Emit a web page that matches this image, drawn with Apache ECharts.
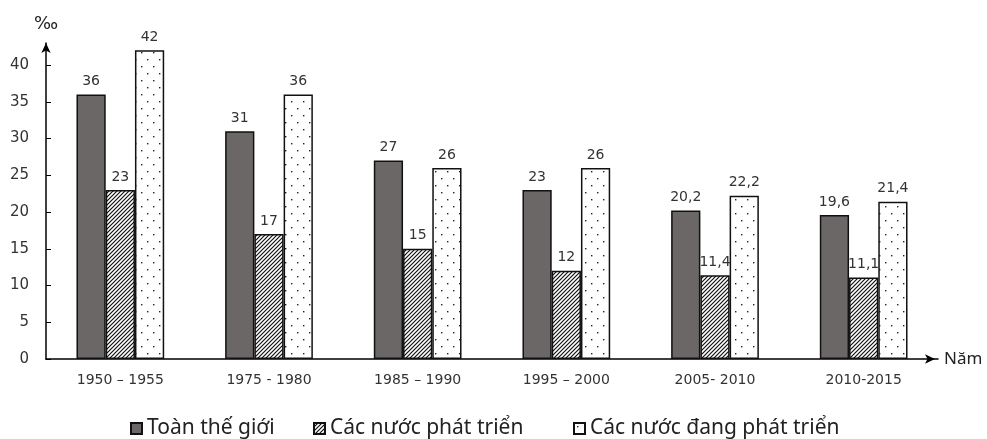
<!DOCTYPE html>
<html>
<head>
<meta charset="utf-8">
<script src="https://cdn.jsdelivr.net/npm/echarts@6/dist/echarts.min.js"></script>
<style>html,body{margin:0;padding:0;background:#fff}#c{width:987px;height:439px}</style>
</head>
<body>
<div id="c"></div>
<script>
const categories = ['1950 – 1955', '1975 - 1980', '1985 – 1990', '1995 – 2000', '2005- 2010', '2010-2015'];
const seriesNames = ['Toàn thế giới', 'Các nước phát triển', 'Các nước đang phát triển'];
const world = [36, 31, 27, 23, 20.2, 19.6];
const developed = [23, 17, 15, 12, 11.4, 11.1];
const developing = [42, 36, 26, 26, 22.2, 21.4];
const yTicks = [0, 5, 10, 15, 20, 25, 30, 35, 40];

function hatchPattern() {
  const c = document.createElement('canvas');
  c.width = 4; c.height = 4;
  const g = c.getContext('2d');
  g.fillStyle = '#fff'; g.fillRect(0, 0, 4, 4);
  g.strokeStyle = '#111'; g.lineWidth = 1.2;
  g.beginPath();
  g.moveTo(-1, 5); g.lineTo(5, -1);
  g.moveTo(-1, 1); g.lineTo(1, -1);
  g.moveTo(3, 5); g.lineTo(5, 3);
  g.stroke();
  return c;
}
function dotPattern() {
  const c = document.createElement('canvas');
  c.width = 12; c.height = 14;
  const g = c.getContext('2d');
  g.fillStyle = '#fff'; g.fillRect(0, 0, 12, 14);
  g.fillStyle = '#222';
  g.fillRect(3, 3, 1.4, 1.4);
  g.fillRect(9, 10, 1.4, 1.4);
  return c;
}

const labelCfg = {
  show: true, position: 'top', distance: 6,
  fontSize: 14, color: '#333', fontFamily: 'DejaVu Sans',
  formatter: p => String(p.value).replace('.', ',')
};
const border = { borderColor: '#111', borderWidth: 1.5, borderRadius: 0 };

const chart = echarts.init(document.getElementById('c'), null, { renderer: 'canvas' });
const legendBase = {
  orient: 'horizontal', top: 418, padding: 0, itemWidth: 11, itemHeight: 11, itemGap: 5,
  icon: 'rect',
  textStyle: { fontSize: 21, color: '#222', fontFamily: 'Noto Sans' },
  selectedMode: false
};
chart.setOption({
  animation: false,
  backgroundColor: '#fff',
  grid: { left: 46, right: 49, top: 43, bottom: 80, containLabel: false },
  legend: [
    Object.assign({}, legendBase, { left: 130, data: [seriesNames[0]] }),
    Object.assign({}, legendBase, { left: 313, data: [seriesNames[1]] }),
    Object.assign({}, legendBase, { left: 573, data: [seriesNames[2]] })
  ],
  xAxis: {
    type: 'category', data: categories,
    name: 'Năm', nameLocation: 'end', nameGap: 6,
    nameTextStyle: { fontSize: 17, color: '#222', fontFamily: 'Noto Sans', verticalAlign: 'middle' },
    axisLine: { lineStyle: { color: '#000', width: 1.5 }, symbol: ['none', 'arrow'], symbolSize: [7, 10], symbolOffset: [0, -3] },
    axisTick: { show: false },
    axisLabel: { fontSize: 14, color: '#333', margin: 14, fontFamily: 'DejaVu Sans' }
  },
  yAxis: {
    type: 'value', min: 0, max: 43,
    name: '‰', nameLocation: 'end', nameGap: 10,
    nameTextStyle: { fontSize: 18, color: '#222', fontFamily: 'DejaVu Sans', align: 'center' },
    axisLine: { show: true, lineStyle: { color: '#000', width: 1.5 }, symbol: ['none', 'arrow'], symbolSize: [7, 10] },
    axisTick: { show: true, inside: true, length: 5, lineStyle: { color: '#000' }, customValues: yTicks },
    axisLabel: { fontSize: 15, color: '#333', margin: 17, fontFamily: 'DejaVu Sans', customValues: yTicks },
    splitLine: { show: false }
  },
  series: [
    { name: seriesNames[0], type: 'bar', data: world, barGap: '0%', barCategoryGap: '41%',
      itemStyle: Object.assign({ color: '#6b6767' }, border), label: labelCfg },
    { name: seriesNames[1], type: 'bar', data: developed, barGap: '0%', barCategoryGap: '41%',
      itemStyle: Object.assign({ color: { image: hatchPattern(), repeat: 'repeat' } }, border), label: labelCfg },
    { name: seriesNames[2], type: 'bar', data: developing, barGap: '0%', barCategoryGap: '41%',
      itemStyle: Object.assign({ color: { image: dotPattern(), repeat: 'repeat' } }, border), label: labelCfg }
  ]
});
</script>
</body>
</html>
